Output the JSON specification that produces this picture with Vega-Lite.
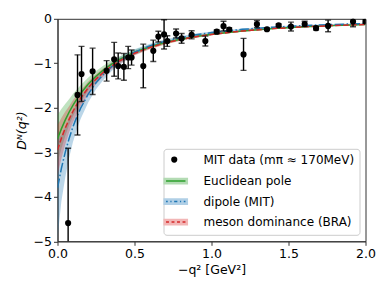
{
  "$schema": "https://vega.github.io/schema/vega-lite/v6.json",
  "autosize": "none",
  "width": 308,
  "height": 222.5,
  "padding": {"left": 57.5, "top": 18.8, "right": 23.5, "bottom": 50.7},
  "background": "white",
  "datasets": {
    "curves": [
      {"t": 0, "m": "Euclidean pole", "y": -2.7, "lo": -3.24, "hi": -2.16},
      {"t": 0.025, "m": "Euclidean pole", "y": -2.474, "lo": -2.919, "hi": -2.029},
      {"t": 0.05, "m": "Euclidean pole", "y": -2.276, "lo": -2.64, "hi": -1.912},
      {"t": 0.075, "m": "Euclidean pole", "y": -2.1, "lo": -2.394, "hi": -1.806},
      {"t": 0.1, "m": "Euclidean pole", "y": -1.944, "lo": -2.197, "hi": -1.691},
      {"t": 0.125, "m": "Euclidean pole", "y": -1.804, "lo": -2.02, "hi": -1.588},
      {"t": 0.15, "m": "Euclidean pole", "y": -1.68, "lo": -1.865, "hi": -1.495},
      {"t": 0.2, "m": "Euclidean pole", "y": -1.466, "lo": -1.613, "hi": -1.319},
      {"t": 0.25, "m": "Euclidean pole", "y": -1.29, "lo": -1.406, "hi": -1.174},
      {"t": 0.3, "m": "Euclidean pole", "y": -1.145, "lo": -1.242, "hi": -1.048},
      {"t": 0.35, "m": "Euclidean pole", "y": -1.022, "lo": -1.109, "hi": -0.935},
      {"t": 0.4, "m": "Euclidean pole", "y": -0.919, "lo": -0.993, "hi": -0.845},
      {"t": 0.5, "m": "Euclidean pole", "y": -0.753, "lo": -0.809, "hi": -0.697},
      {"t": 0.6, "m": "Euclidean pole", "y": -0.629, "lo": -0.673, "hi": -0.585},
      {"t": 0.7, "m": "Euclidean pole", "y": -0.533, "lo": -0.57, "hi": -0.496},
      {"t": 0.8, "m": "Euclidean pole", "y": -0.458, "lo": -0.49, "hi": -0.426},
      {"t": 0.9, "m": "Euclidean pole", "y": -0.397, "lo": -0.425, "hi": -0.369},
      {"t": 1.0, "m": "Euclidean pole", "y": -0.348, "lo": -0.372, "hi": -0.324},
      {"t": 1.2, "m": "Euclidean pole", "y": -0.273, "lo": -0.292, "hi": -0.254},
      {"t": 1.4, "m": "Euclidean pole", "y": -0.22, "lo": -0.235, "hi": -0.205},
      {"t": 1.6, "m": "Euclidean pole", "y": -0.181, "lo": -0.194, "hi": -0.168},
      {"t": 1.8, "m": "Euclidean pole", "y": -0.152, "lo": -0.163, "hi": -0.141},
      {"t": 2.0, "m": "Euclidean pole", "y": -0.129, "lo": -0.138, "hi": -0.12},
      {"t": 0, "m": "dipole (MIT)", "y": -3.8, "lo": -4.94, "hi": -2.66},
      {"t": 0.025, "m": "dipole (MIT)", "y": -3.366, "lo": -4.107, "hi": -2.625},
      {"t": 0.05, "m": "dipole (MIT)", "y": -3.002, "lo": -3.572, "hi": -2.432},
      {"t": 0.075, "m": "dipole (MIT)", "y": -2.695, "lo": -3.126, "hi": -2.264},
      {"t": 0.1, "m": "dipole (MIT)", "y": -2.432, "lo": -2.772, "hi": -2.092},
      {"t": 0.125, "m": "dipole (MIT)", "y": -2.206, "lo": -2.493, "hi": -1.919},
      {"t": 0.15, "m": "dipole (MIT)", "y": -2.01, "lo": -2.251, "hi": -1.769},
      {"t": 0.2, "m": "dipole (MIT)", "y": -1.689, "lo": -1.875, "hi": -1.503},
      {"t": 0.25, "m": "dipole (MIT)", "y": -1.439, "lo": -1.583, "hi": -1.295},
      {"t": 0.3, "m": "dipole (MIT)", "y": -1.241, "lo": -1.365, "hi": -1.117},
      {"t": 0.35, "m": "dipole (MIT)", "y": -1.081, "lo": -1.178, "hi": -0.984},
      {"t": 0.4, "m": "dipole (MIT)", "y": -0.95, "lo": -1.036, "hi": -0.865},
      {"t": 0.5, "m": "dipole (MIT)", "y": -0.751, "lo": -0.815, "hi": -0.687},
      {"t": 0.6, "m": "dipole (MIT)", "y": -0.608, "lo": -0.657, "hi": -0.559},
      {"t": 0.7, "m": "dipole (MIT)", "y": -0.502, "lo": -0.542, "hi": -0.462},
      {"t": 0.8, "m": "dipole (MIT)", "y": -0.422, "lo": -0.456, "hi": -0.388},
      {"t": 0.9, "m": "dipole (MIT)", "y": -0.36, "lo": -0.389, "hi": -0.331},
      {"t": 1.0, "m": "dipole (MIT)", "y": -0.31, "lo": -0.335, "hi": -0.285},
      {"t": 1.2, "m": "dipole (MIT)", "y": -0.2375, "lo": -0.257, "hi": -0.219},
      {"t": 1.4, "m": "dipole (MIT)", "y": -0.188, "lo": -0.203, "hi": -0.173},
      {"t": 1.6, "m": "dipole (MIT)", "y": -0.152, "lo": -0.164, "hi": -0.14},
      {"t": 1.8, "m": "dipole (MIT)", "y": -0.126, "lo": -0.136, "hi": -0.116},
      {"t": 2.0, "m": "dipole (MIT)", "y": -0.106, "lo": -0.114, "hi": -0.098},
      {"t": 0, "m": "meson dominance (BRA)", "y": -2.95, "lo": -3.511, "hi": -2.39},
      {"t": 0.025, "m": "meson dominance (BRA)", "y": -2.688, "lo": -3.145, "hi": -2.231},
      {"t": 0.05, "m": "meson dominance (BRA)", "y": -2.46, "lo": -2.829, "hi": -2.091},
      {"t": 0.075, "m": "meson dominance (BRA)", "y": -2.26, "lo": -2.554, "hi": -1.966},
      {"t": 0.1, "m": "meson dominance (BRA)", "y": -2.083, "lo": -2.333, "hi": -1.833},
      {"t": 0.125, "m": "meson dominance (BRA)", "y": -1.926, "lo": -2.138, "hi": -1.714},
      {"t": 0.15, "m": "meson dominance (BRA)", "y": -1.786, "lo": -1.965, "hi": -1.607},
      {"t": 0.2, "m": "meson dominance (BRA)", "y": -1.549, "lo": -1.688, "hi": -1.41},
      {"t": 0.25, "m": "meson dominance (BRA)", "y": -1.355, "lo": -1.463, "hi": -1.247},
      {"t": 0.3, "m": "meson dominance (BRA)", "y": -1.196, "lo": -1.286, "hi": -1.106},
      {"t": 0.35, "m": "meson dominance (BRA)", "y": -1.064, "lo": -1.138, "hi": -0.99},
      {"t": 0.4, "m": "meson dominance (BRA)", "y": -0.952, "lo": -1.014, "hi": -0.89},
      {"t": 0.5, "m": "meson dominance (BRA)", "y": -0.775, "lo": -0.822, "hi": -0.729},
      {"t": 0.6, "m": "meson dominance (BRA)", "y": -0.644, "lo": -0.683, "hi": -0.605},
      {"t": 0.7, "m": "meson dominance (BRA)", "y": -0.543, "lo": -0.576, "hi": -0.51},
      {"t": 0.8, "m": "meson dominance (BRA)", "y": -0.464, "lo": -0.492, "hi": -0.436},
      {"t": 0.9, "m": "meson dominance (BRA)", "y": -0.401, "lo": -0.425, "hi": -0.377},
      {"t": 1.0, "m": "meson dominance (BRA)", "y": -0.351, "lo": -0.372, "hi": -0.33},
      {"t": 1.2, "m": "meson dominance (BRA)", "y": -0.274, "lo": -0.29, "hi": -0.258},
      {"t": 1.4, "m": "meson dominance (BRA)", "y": -0.22, "lo": -0.233, "hi": -0.207},
      {"t": 1.6, "m": "meson dominance (BRA)", "y": -0.181, "lo": -0.192, "hi": -0.17},
      {"t": 1.8, "m": "meson dominance (BRA)", "y": -0.151, "lo": -0.16, "hi": -0.142},
      {"t": 2.0, "m": "meson dominance (BRA)", "y": -0.128, "lo": -0.136, "hi": -0.12}
    ],
    "mit": [
      {"q2": 0.069, "D": -4.59, "err": 1.68},
      {"q2": 0.13, "D": -1.71, "err": 0.9},
      {"q2": 0.156, "D": -1.24, "err": 0.62},
      {"q2": 0.228, "D": -1.18, "err": 0.52},
      {"q2": 0.319, "D": -1.17, "err": 0.23},
      {"q2": 0.368, "D": -0.91, "err": 0.38},
      {"q2": 0.394, "D": -1.06, "err": 0.29},
      {"q2": 0.431, "D": -1.08, "err": 0.3},
      {"q2": 0.459, "D": -0.87, "err": 0.25},
      {"q2": 0.481, "D": -0.87, "err": 0.17},
      {"q2": 0.557, "D": -1.06, "err": 0.49},
      {"q2": 0.622, "D": -0.72, "err": 0.24},
      {"q2": 0.655, "D": -0.4, "err": 0.12},
      {"q2": 0.692, "D": -0.35, "err": 0.33},
      {"q2": 0.713, "D": -0.5, "err": 0.12},
      {"q2": 0.77, "D": -0.33, "err": 0.1},
      {"q2": 0.806, "D": -0.44, "err": 0.11},
      {"q2": 0.871, "D": -0.36, "err": 0.09},
      {"q2": 0.96, "D": -0.5, "err": 0.11},
      {"q2": 1.034, "D": -0.29, "err": 0.04},
      {"q2": 1.078, "D": -0.165, "err": 0.11},
      {"q2": 1.115, "D": -0.24, "err": 0.04},
      {"q2": 1.208, "D": -0.8, "err": 0.36},
      {"q2": 1.295, "D": -0.12, "err": 0.08},
      {"q2": 1.36, "D": -0.235, "err": 0.03},
      {"q2": 1.436, "D": -0.145, "err": 0.03},
      {"q2": 1.516, "D": -0.175, "err": 0.1},
      {"q2": 1.605, "D": -0.116, "err": 0.06},
      {"q2": 1.679, "D": -0.21, "err": 0.04},
      {"q2": 1.757, "D": -0.16, "err": 0.13},
      {"q2": 1.919, "D": -0.06, "err": 0.12},
      {"q2": 2.0, "D": -0.06, "err": 0.04}
    ]
  },
  "layer": [
    {
      "data": {"name": "curves"},
      "mark": {"type": "area", "opacity": 0.3, "clip": true},
      "encoding": {
        "x": {"field": "t", "type": "quantitative", "title": "−q² [GeV²]",
              "scale": {"domain": [0, 2], "nice": false, "zero": false},
              "axis": {"values": [0, 0.5, 1, 1.5, 2], "format": ".1f", "titlePadding": 4}},
        "y": {"field": "lo", "type": "quantitative", "title": "Dᴺ(q²)",
              "scale": {"domain": [-5, 0], "nice": false, "zero": false},
              "axis": {"values": [-5, -4, -3, -2, -1, 0], "format": "d", "titlePadding": 5, "titleFontStyle": "italic"}},
        "y2": {"field": "hi"},
        "fill": {"field": "m", "type": "nominal", "legend": null,
                 "scale": {"domain": ["Euclidean pole", "dipole (MIT)", "meson dominance (BRA)"],
                           "range": ["#2ca02c", "#1f77b4", "#d62728"]}}
      }
    },
    {
      "data": {"name": "curves"},
      "transform": [{"filter": {"field": "m", "equal": "Euclidean pole"}}],
      "mark": {"type": "line", "strokeWidth": 1.5, "clip": true, "color": "#2ca02c"},
      "encoding": {
        "x": {"field": "t", "type": "quantitative", "title": "−q² [GeV²]"},
        "y": {"field": "y", "type": "quantitative", "title": "Dᴺ(q²)"}
      }
    },
    {
      "data": {"name": "curves"},
      "transform": [{"filter": {"field": "m", "equal": "dipole (MIT)"}}],
      "mark": {"type": "line", "strokeWidth": 1.5, "clip": true, "color": "#1f77b4", "strokeDash": [9.6, 2.4, 1.5, 2.4]},
      "encoding": {
        "x": {"field": "t", "type": "quantitative", "title": "−q² [GeV²]"},
        "y": {"field": "y", "type": "quantitative", "title": "Dᴺ(q²)"}
      }
    },
    {
      "data": {"name": "curves"},
      "transform": [{"filter": {"field": "m", "equal": "meson dominance (BRA)"}}],
      "mark": {"type": "line", "strokeWidth": 1.5, "clip": true, "color": "#d62728", "strokeDash": [5.5, 2.4]},
      "encoding": {
        "x": {"field": "t", "type": "quantitative", "title": "−q² [GeV²]"},
        "y": {"field": "y", "type": "quantitative", "title": "Dᴺ(q²)"}
      }
    },
    {
      "data": {"name": "mit"},
      "mark": {"type": "errorbar", "color": "black", "ticks": true, "size": 6, "thickness": 1.4, "clip": true},
      "encoding": {
        "x": {"field": "q2", "type": "quantitative", "title": "−q² [GeV²]"},
        "y": {"field": "D", "type": "quantitative", "title": "Dᴺ(q²)"},
        "yError": {"field": "err"}
      }
    },
    {
      "data": {"name": "mit"},
      "mark": {"type": "point", "filled": true, "size": 38, "opacity": 1, "clip": true},
      "encoding": {
        "x": {"field": "q2", "type": "quantitative", "title": "−q² [GeV²]"},
        "y": {"field": "D", "type": "quantitative", "title": "Dᴺ(q²)"},
        "color": {"datum": "MIT data (mπ ≈ 170MeV)",
                  "scale": {"domain": ["MIT data (mπ ≈ 170MeV)", "Euclidean pole", "dipole (MIT)", "meson dominance (BRA)"],
                            "range": ["black", "#2ca02c", "#1f77b4", "#d62728"]},
                  "legend": {"title": null, "orient": "bottom-right", "offset": 6.5, "padding": 4.75, "rowPadding": 4.5, "labelOffset": 23.2,
                             "labelFont": "DejaVu Sans", "labelFontSize": 12, "labelColor": "black", "labelLimit": 300,
                             "symbolSize": 38, "symbolOpacity": 1, "symbolStrokeWidth": 2.6,
                             "strokeColor": "#cccccc", "fillColor": "rgba(255,255,255,0.85)", "cornerRadius": 3}},
        "stroke": {"datum": "MIT data (mπ ≈ 170MeV)",
                   "scale": {"domain": ["MIT data (mπ ≈ 170MeV)", "Euclidean pole", "dipole (MIT)", "meson dominance (BRA)"],
                             "range": ["transparent", "#b3dbb3", "#b0cfe6", "#f2b6b6"]},
                   "legend": {"title": null, "orient": "bottom-right", "offset": 6.5, "padding": 4.75, "rowPadding": 4.5, "labelOffset": 23.2,
                              "labelFont": "DejaVu Sans", "labelFontSize": 12, "labelColor": "black", "labelLimit": 300,
                              "symbolSize": 38, "symbolOpacity": 1, "symbolStrokeWidth": 2.6,
                              "strokeColor": "#cccccc", "fillColor": "rgba(255,255,255,0.85)", "cornerRadius": 3}},
        "shape": {"datum": "MIT data (mπ ≈ 170MeV)",
                  "scale": {"domain": ["MIT data (mπ ≈ 170MeV)", "Euclidean pole", "dipole (MIT)", "meson dominance (BRA)"],
                            "range": ["circle",
                              "M-3.082,-0.665H4.056V0.665H-3.082Z",
                              "M-3.082,-0.665H-1.687V0.665H-3.082Z M-1.687,-0.665H-0.454V0.665H-1.687Z M-0.454,-0.665H1.428V0.665H-0.454Z M1.428,-0.665H2.661V0.665H1.428Z M2.661,-0.665H4.056V0.665H2.661Z",
                              "M-3.082,-0.665H-1.298V0.665H-3.082Z M-1.298,-0.665H0.487V0.665H-1.298Z M0.487,-0.665H2.272V0.665H0.487Z M2.272,-0.665H4.056V0.665H2.272Z"]},
                  "legend": {"title": null, "orient": "bottom-right", "offset": 6.5, "padding": 4.75, "rowPadding": 4.5, "labelOffset": 23.2,
                             "labelFont": "DejaVu Sans", "labelFontSize": 12, "labelColor": "black", "labelLimit": 300,
                             "symbolSize": 38, "symbolOpacity": 1, "symbolStrokeWidth": 2.6,
                             "strokeColor": "#cccccc", "fillColor": "rgba(255,255,255,0.85)", "cornerRadius": 3}}
      }
    }
  ],
  "config": {
    "font": "DejaVu Sans",
    "view": {"stroke": "#333333", "strokeWidth": 1},
    "axis": {
      "grid": false,
      "labelFont": "DejaVu Sans",
      "labelFontSize": 12.5,
      "labelColor": "black",
      "titleFont": "DejaVu Sans",
      "titleFontSize": 12.5,
      "titleFontWeight": "normal",
      "titleColor": "black",
      "domainColor": "#333333",
      "tickColor": "#333333",
      "tickSize": 4,
      "labelPadding": 2,
      "labelFlush": false,
      "labelOverlap": false
    }
  }
}
